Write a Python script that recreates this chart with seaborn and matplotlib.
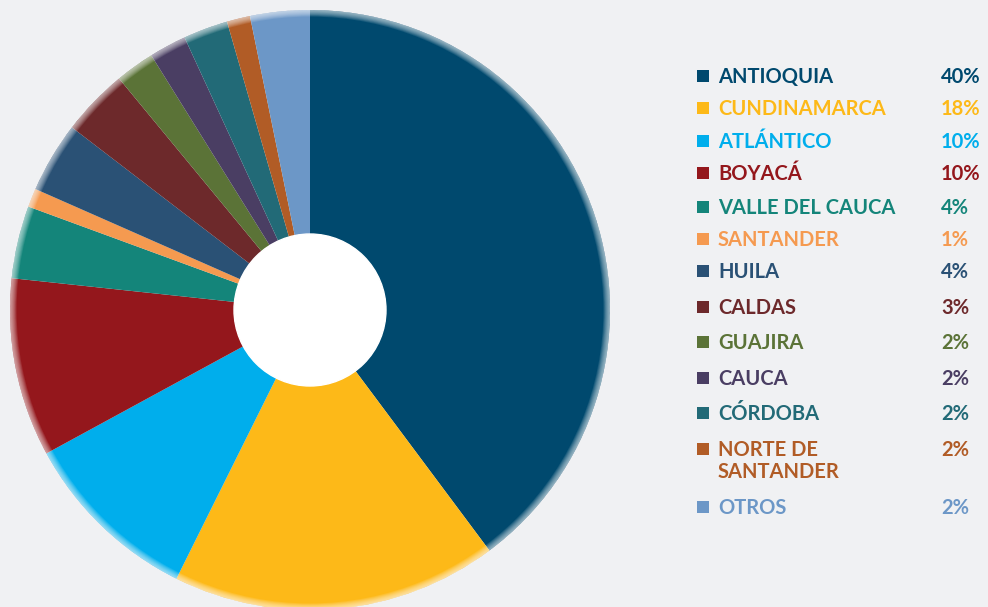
import numpy as np
import matplotlib
matplotlib.use("Agg")
import matplotlib.pyplot as plt
from matplotlib.patches import Rectangle, Wedge
import seaborn as sns

# Datos
departamentos = ["ANTIOQUIA", "CUNDINAMARCA", "ATLÁNTICO", "BOYACÁ", "VALLE DEL CAUCA",
                 "SANTANDER", "HUILA", "CALDAS", "GUAJIRA", "CAUCA", "CÓRDOBA",
                 "NORTE DE\nSANTANDER", "OTROS"]
etiquetas_pct = ["40%", "18%", "10%", "10%", "4%", "1%", "4%", "3%", "2%", "2%", "2%", "2%", "2%"]
# tamaño de las porciones tal como se dibujan en el gráfico
porciones = [39.7, 17.5, 9.7, 9.6, 3.9, 1.0, 3.8, 3.6, 2.1, 2.0, 2.4, 1.25, 3.2]
colores = ["#00496E", "#FDB918", "#00AEEC", "#94171C", "#14857A", "#F59A50", "#2A5175",
           "#6D292B", "#5B7337", "#4A3E63", "#226A77", "#B15C26", "#6C97C7"]

fondo = "#F0F1F3"
sns.set_style("white")
plt.rcParams["font.family"] = ["Lato", "DejaVu Sans"]

fig = plt.figure(figsize=(9.88, 6.07), dpi=100, facecolor=fondo)
W, H = 988, 607
ax = fig.add_axes([10 / W, (H - 610) / H, 600 / W, 600 / H])
ax.set_facecolor(fondo)

palette = sns.color_palette(colores)
ax.pie(porciones, colors=palette, startangle=90, counterclock=False, radius=1.0,
       wedgeprops=dict(linewidth=0, antialiased=True))

# brillo suave en el borde exterior
n = 8
for i in range(n):
    r_in = 0.978 + i * 0.022 / n
    ax.add_patch(Wedge((0, 0), 1.0, 0, 360, width=1.0 - r_in, facecolor="white",
                       edgecolor="none", alpha=0.1))

# hueco central
ax.add_patch(plt.Circle((0, 0), 76 / 300, color="white", zorder=5))
ax.set_xlim(-1, 1)
ax.set_ylim(-1, 1)
ax.set_aspect("equal")
ax.axis("off")

# leyenda
filas_y = [76, 108, 141, 173, 207, 239, 271, 307, 342, 378, 413, 449, 507]
for nombre, pct, col, y in zip(departamentos, etiquetas_pct, colores, filas_y):
    fig.patches.append(Rectangle((697 / W, 1 - (y + 6) / H), 12 / W, 12 / H,
                                 transform=fig.transFigure, facecolor=col,
                                 edgecolor="none"))
    for k, linea in enumerate(nombre.split("\n")):
        fig.text(718 / W, 1 - (y + 7 + 22 * k) / H, linea, color=col, fontsize=14.5,
                 fontweight="bold", va="baseline", ha="left")
    fig.text(941 / W, 1 - (y + 7) / H, pct, color=col, fontsize=14.5,
             fontweight="bold", va="baseline", ha="left")

fig.savefig("out.png", dpi=100, facecolor=fondo)
